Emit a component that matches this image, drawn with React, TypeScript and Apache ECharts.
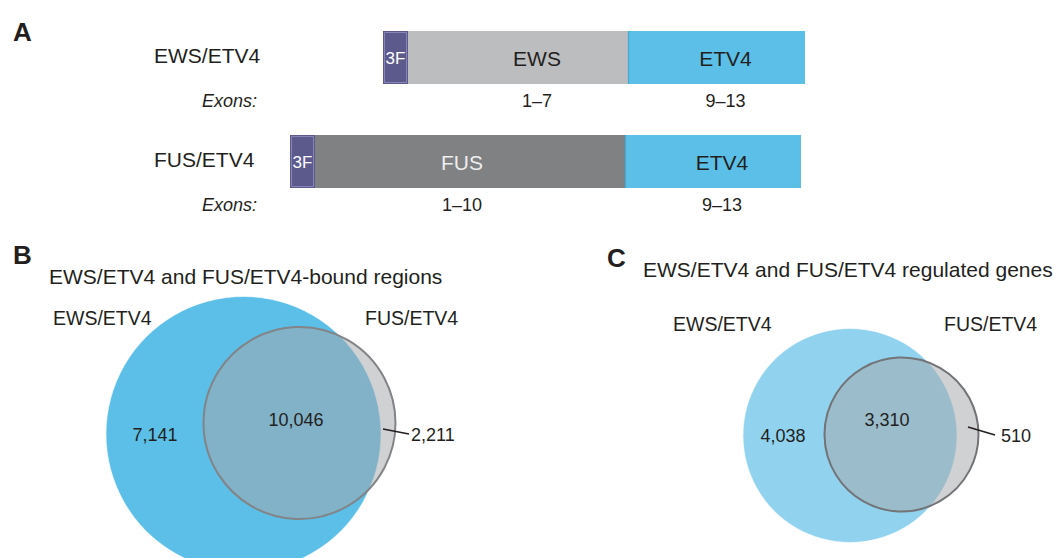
import React, { useEffect, useRef } from "react";
import * as echarts from "echarts";

// ---------------- data ----------------
// Panel A: fusion constructs and their domains
const constructs = ["EWS/ETV4", "FUS/ETV4"];
const domainNames = [
  ["3F", "EWS", "ETV4"],
  ["3F", "FUS", "ETV4"],
];
const domainLengths = [
  [25, 220, 177],
  [25, 310, 176],
];
const exonLabels = [
  ["", "1–7", "9–13"],
  ["", "1–10", "9–13"],
];
const exonsCaption = "Exons:";

// Panels B and C: Venn counts [EWS only, both, FUS only]
const panelLetters = ["A", "B", "C"];
const vennTitles = [
  "EWS/ETV4 and FUS/ETV4-bound regions",
  "EWS/ETV4 and FUS/ETV4 regulated genes",
];
const vennSets = ["EWS/ETV4", "FUS/ETV4"];
const boundRegions = [7141, 10046, 2211];
const regulatedGenes = [4038, 3310, 510];
const vennCounts = [boundRegions, regulatedGenes];

// ---------------- layout / style ----------------
const W = 1060;
const H = 558;
const FONT = "'Liberation Sans', Arial, Helvetica, sans-serif";
const INK = "#231f20";

const barStart = [383, 290];
const rowY = [57.5, 161.5];
const barH = 53;
const labelShift = [
  [0, 19, 9],
  [0, -8, 9],
];
const domainColors: Record<string, string> = {
  "3F": "#5c5a8d",
  EWS: "#bcbdbf",
  FUS: "#808183",
  ETV4: "#5cbfe8",
};
const domainTextColors: Record<string, string> = {
  "3F": "#ffffff",
  EWS: INK,
  FUS: "#eeeeee",
  ETV4: INK,
};

const vennLayout = [
  {
    circles: [
      { cx: 243.5, cy: 434, r: 137.5, fill: "#5bbfe8", stroke: "#828487" },
      { cx: 299.5, cy: 423, r: 96 },
    ],
    counts: [
      [155, 435, "center"],
      [296, 420, "center"],
      [411, 435, "left"],
    ],
    leader: [383, 429, 409, 434],
    setLabels: [
      [53, 318],
      [365, 318],
    ],
    letter: [13, 255],
    title: [49, 276],
  },
  {
    circles: [
      { cx: 850, cy: 435.5, r: 107, fill: "#91d3ef", stroke: "#727477" },
      { cx: 901.5, cy: 434.5, r: 77 },
    ],
    counts: [
      [783, 436, "center"],
      [887, 420, "center"],
      [1001, 436, "left"],
    ],
    leader: [968, 427, 995, 435],
    setLabels: [
      [673, 324],
      [944, 324],
    ],
    letter: [607, 258],
    title: [643, 269],
  },
];

function fmt(n: number) {
  return n.toLocaleString("en-US");
}

export default function App() {
  const ref = useRef<HTMLDivElement>(null);

  useEffect(() => {
    document.body.style.margin = "0";
    if (!ref.current) return;
    const chart = echarts.init(ref.current, undefined, { renderer: "svg" });

    // bar segment data: [x0, y, x1, row, seg]
    const barData: number[][] = [];
    domainLengths.forEach((lens, row) => {
      let x = barStart[row];
      lens.forEach((len, seg) => {
        barData.push([x, rowY[row], x + len, row, seg]);
        x += len;
      });
    });

    // venn circle data: [cx, cy, r, panel, set]
    const circleData: number[][] = [];
    vennLayout.forEach((p, pi) =>
      p.circles.forEach((c, ci) => circleData.push([c.cx, c.cy, c.r, pi, ci]))
    );

    // venn count label data: [x, y, panel, idx]
    const countData: number[][] = [];
    vennCounts.forEach((arr, pi) =>
      arr.forEach((_, i) =>
        countData.push([vennLayout[pi].counts[i][0] as number, vennLayout[pi].counts[i][1] as number, pi, i])
      )
    );

    const graphics: any[] = [];
    // panel letters
    graphics.push({
      type: "text",
      x: 13,
      y: 32,
      style: { text: panelLetters[0], font: `bold 26px ${FONT}`, fill: INK, verticalAlign: "middle" },
    });
    vennLayout.forEach((p, pi) => {
      graphics.push({
        type: "text",
        x: p.letter[0],
        y: p.letter[1],
        style: { text: panelLetters[pi + 1], font: `bold 26px ${FONT}`, fill: INK, verticalAlign: "middle" },
      });
      graphics.push({
        type: "text",
        x: p.title[0],
        y: p.title[1],
        style: { text: vennTitles[pi], font: `21px ${FONT}`, fill: INK, verticalAlign: "middle" },
      });
      p.setLabels.forEach((s, si) =>
        graphics.push({
          type: "text",
          x: s[0],
          y: s[1],
          style: { text: vennSets[si], font: `19.5px ${FONT}`, fill: INK, verticalAlign: "middle" },
        })
      );
      graphics.push({
        type: "line",
        shape: { x1: p.leader[0], y1: p.leader[1], x2: p.leader[2], y2: p.leader[3] },
        style: { stroke: INK, lineWidth: 1.6 },
        z: 10,
      });
    });
    // construct labels and "Exons:"
    constructs.forEach((c, i) => {
      graphics.push({
        type: "text",
        x: 154,
        y: rowY[i] - 2,
        style: { text: c, font: `21px ${FONT}`, fill: INK, verticalAlign: "middle" },
      });
      graphics.push({
        type: "text",
        x: 257,
        y: rowY[i] + barH / 2 + 17,
        style: { text: exonsCaption, font: `italic 18px ${FONT}`, fill: INK, align: "right", verticalAlign: "middle" },
      });
    });

    const option: any = {
      animation: false,
      grid: { left: 0, top: 0, width: W, height: H, show: false },
      xAxis: { type: "value", min: 0, max: W, show: false },
      yAxis: { type: "value", min: 0, max: H, inverse: true, show: false },
      series: [
        {
          type: "custom",
          name: "venn",
          clip: false,
          data: circleData,
          renderItem: (params: any, api: any) => {
            const cx = api.value(0);
            const cy = api.value(1);
            const r = api.value(2);
            const pi = api.value(3);
            const ci = api.value(4);
            const c = api.coord([cx, cy]);
            const rr = api.size([r, 0])[0];
            const first = vennLayout[pi].circles[0] as any;
            if (ci === 0) {
              return {
                type: "circle",
                shape: { cx: c[0], cy: c[1], r: rr },
                style: {
                  fill: first.fill,
                  stroke: "rgba(255,255,255,0.55)",
                  lineWidth: 1,
                },
              };
            }
            return {
              type: "circle",
              shape: { cx: c[0], cy: c[1], r: rr },
              style: { fill: "rgba(165,167,170,0.52)", stroke: first.stroke, lineWidth: 2 },
            };
          },
        },
        {
          type: "custom",
          name: "counts",
          clip: false,
          z: 5,
          data: countData,
          renderItem: (params: any, api: any) => {
            const pi = api.value(2);
            const i = api.value(3);
            const c = api.coord([api.value(0), api.value(1)]);
            return {
              type: "text",
              style: {
                text: fmt(vennCounts[pi][i]),
                x: c[0],
                y: c[1],
                align: vennLayout[pi].counts[i][2],
                verticalAlign: "middle",
                font: `18px ${FONT}`,
                fill: INK,
              },
            };
          },
        },
        {
          type: "custom",
          name: "constructs",
          clip: false,
          data: barData,
          renderItem: (params: any, api: any) => {
            const x0 = api.value(0);
            const y = api.value(1);
            const x1 = api.value(2);
            const row = api.value(3);
            const seg = api.value(4);
            const p0 = api.coord([x0, y]);
            const p1 = api.coord([x1, y]);
            const h = api.size([0, barH])[1];
            const name = domainNames[row][seg];
            const w = p1[0] - p0[0];
            const top = p0[1] - h / 2;
            const children: any[] = [
              {
                type: "rect",
                shape: { x: p0[0], y: top, width: w, height: h },
                style: { fill: domainColors[name] },
              },
            ];
            if (name === "3F") {
              children.push({
                type: "rect",
                shape: { x: p0[0] + 1.5, y: top + 1.5, width: w - 3, height: h - 3 },
                style: { fill: "none", stroke: "#8684b8", lineWidth: 1 },
              });
            }
            if (name === "ETV4") {
              children.push({
                type: "line",
                shape: { x1: p0[0] + 0.5, y1: top, x2: p0[0] + 0.5, y2: top + h },
                style: { stroke: "#45a8d6", lineWidth: 1.2 },
              });
            }
            children.push({
              type: "text",
              style: {
                text: name,
                x: p0[0] + w / 2 + labelShift[row][seg],
                y: p0[1] + 1,
                align: "center",
                verticalAlign: "middle",
                font: name === "3F" ? `17px ${FONT}` : `21px ${FONT}`,
                fill: domainTextColors[name],
              },
            });
            const ex = exonLabels[row][seg];
            if (ex) {
              children.push({
                type: "text",
                style: {
                  text: ex,
                  x: p0[0] + w / 2 + labelShift[row][seg],
                  y: top + h + 17,
                  align: "center",
                  verticalAlign: "middle",
                  font: `18px ${FONT}`,
                  fill: INK,
                },
              });
            }
            return { type: "group", children };
          },
        },
      ],
      graphic: graphics,
    };

    chart.setOption(option);
    return () => chart.dispose();
  }, []);

  return <div ref={ref} style={{ width: W, height: H, background: "#fff" }} />;
}
